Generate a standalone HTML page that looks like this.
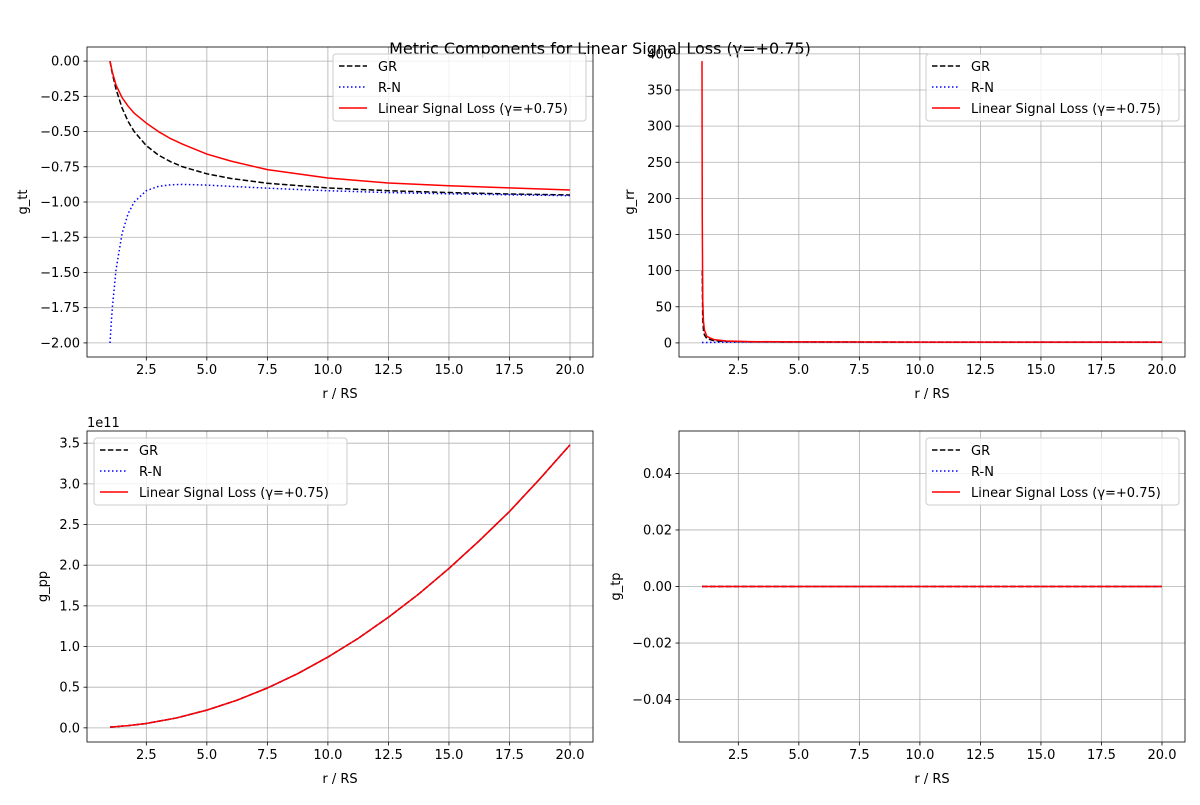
<!DOCTYPE html>
<html><head><meta charset="utf-8"><style>
body{margin:0;background:#fff;}
svg text{font-family:"DejaVu Sans","Liberation Sans",sans-serif;fill:#000;}
</style></head><body>
<svg id="fig" width="1200" height="800" viewBox="0 0 1200 800" xmlns="http://www.w3.org/2000/svg">
<rect width="1200" height="800" fill="#fff"/>
<text x="600" y="54" font-size="16" text-anchor="middle">Metric Components for Linear Signal Loss (γ=+0.75)</text>
</svg>
<script>
// ---- data ----
const rTT = [1.0,1.05,1.1,1.25,1.5,1.75,2,2.5,3,3.5,4,5,6,7.5,10,12.5,15,17.5,20];
const ttGR = [0,-0.048,-0.091,-0.2,-0.333,-0.429,-0.5,-0.6,-0.667,-0.714,-0.75,-0.8,-0.833,-0.867,-0.9,-0.92,-0.933,-0.943,-0.95];
const ttRN = [-2,-1.862,-1.744,-1.48,-1.222,-1.082,-1.0,-0.92,-0.889,-0.878,-0.875,-0.88,-0.889,-0.902,-0.92,-0.933,-0.942,-0.949,-0.955];
const ttLSL = [0,-0.04,-0.08,-0.17,-0.26,-0.32,-0.37,-0.44,-0.5,-0.55,-0.59,-0.66,-0.71,-0.77,-0.83,-0.865,-0.885,-0.9,-0.915];
const rRR = [1.0,1.01,1.03,1.06,1.1,1.2,1.5,2,3,5,10,20];
const rrGR = [100,100,34,17.7,11,6,3,2,1.5,1.25,1.11,1.05];
const rrRN = [0.5,0.5,0.5,0.52,0.54,0.6,0.75,1,1.29,1.19,1.09,1.05];
const rrLSL = [390,180,60,30,18,9,4.5,2.6,1.8,1.35,1.15,1.07];
const rPP = [1,1.75,2.5,3.75,5,6.25,7.5,8.75,10,11.25,12.5,13.75,15,16.25,17.5,18.75,20];
const ppAll = [0.0087,0.027,0.054,0.122,0.218,0.34,0.49,0.666,0.87,1.10,1.36,1.645,1.96,2.30,2.66,3.06,3.48];
const rTP = [1,20];
const tpAll = [0,0];
const xTicks = [2.5,5,7.5,10,12.5,15,17.5,20];
const xTickLabels = ["2.5","5.0","7.5","10.0","12.5","15.0","17.5","20.0"];
const ttTicks = [0,-0.25,-0.5,-0.75,-1,-1.25,-1.5,-1.75,-2];
const ttTickLabels = ["0.00","−0.25","−0.50","−0.75","−1.00","−1.25","−1.50","−1.75","−2.00"];
const rrTicks = [0,50,100,150,200,250,300,350,400];
const ppTicks = [0,0.5,1,1.5,2,2.5,3,3.5];
const ppTickLabels = ["0.0","0.5","1.0","1.5","2.0","2.5","3.0","3.5"];
const tpTicks = [-0.04,-0.02,0,0.02,0.04];
const tpTickLabels = ["−0.04","−0.02","0.00","0.02","0.04"];

const NS="http://www.w3.org/2000/svg";
const fig=document.getElementById('fig');
function mk(tag,attrs,parent){const e=document.createElementNS(NS,tag);for(const k in attrs)e.setAttribute(k,attrs[k]);(parent||fig).appendChild(e);return e;}

function panel(o){
  const g=mk('g',{});
  
  
  const X=v=>o.x0+(v-0.05)/(20.95-0.05)*o.w;
  const Y=v=>o.y0+(o.ymax-v)/(o.ymax-o.ymin)*o.h;
  xTicks.forEach((t,i)=>{
    const gl=mk('line',{x1:X(t),x2:X(t),y1:o.y0,y2:o.y0+o.h,stroke:'#b0b0b0','stroke-width':0.8},g);
    
    
    mk('line',{x1:X(t),x2:X(t),y1:o.y0+o.h,y2:o.y0+o.h+3.5,stroke:'#000','stroke-width':0.8},g);
    const tx=mk('text',{x:X(t),y:o.y0+o.h+17,'font-size':13,'text-anchor':'middle'},g);
    tx.textContent=xTickLabels[i];
    
    
  });
  o.yt.forEach((t,i)=>{
    mk('line',{x1:o.x0,x2:o.x0+o.w,y1:Y(t),y2:Y(t),stroke:'#b0b0b0','stroke-width':0.8},g);
    mk('line',{x1:o.x0-3.5,x2:o.x0,y1:Y(t),y2:Y(t),stroke:'#000','stroke-width':0.8},g);
    const tx=mk('text',{x:o.x0-7,y:Y(t)+4.5,'font-size':13,'text-anchor':'end'},g);
    tx.textContent=o.ytl[i];
    
    
  });
  const styles=[{c:'#000',d:'5.5,2.4'},{c:'#0000ff',d:'1.5,2.5'},{c:'#ff0000',d:''}];
  o.series.forEach((s,i)=>{
    const p=s.ys.map((v,j)=>(j?'L':'M')+X(s.xs[j]).toFixed(2)+','+Y(v).toFixed(2)).join('');
    const pa=mk('path',{d:p,fill:'none',stroke:styles[i].c,'stroke-width':1.5,'stroke-dasharray':styles[i].d,'stroke-linejoin':'round'},g);
    
    
  });
  mk('rect',{x:o.x0,y:o.y0,width:o.w,height:o.h,fill:'none',stroke:'#000','stroke-width':0.8},g);
  const xl=mk('text',{x:o.x0+o.w/2,y:o.y0+o.h+41,'font-size':13,'text-anchor':'middle'},g);
  xl.textContent='r / RS';
  
  
  const yx=o.ylx, yy=o.y0+o.h/2;
  const yl=mk('text',{x:yx,y:yy,'font-size':13,'text-anchor':'middle',transform:`rotate(-90 ${yx} ${yy})`},g);
  yl.textContent=o.ylabel;
  
  
  const lg=mk('g',{},g);
  
  
  mk('rect',{x:o.lx,y:o.ly,width:253,height:67,rx:3,fill:'#fff','fill-opacity':0.8,stroke:'#cccccc'},lg);
  ['GR','R-N','Linear Signal Loss (γ=+0.75)'].forEach((t,i)=>{
    const yy=o.ly+12+i*21;
    mk('line',{x1:o.lx+6,x2:o.lx+34,y1:yy,y2:yy,stroke:styles[i].c,'stroke-width':1.5,'stroke-dasharray':styles[i].d},lg);
    const tx=mk('text',{x:o.lx+45,y:yy+5,'font-size':13},lg);
    tx.textContent=t;
    
    
  });
  return g;
}
panel({name:'gtt-panel',x0:87,y0:47,w:506,h:310,ymin:-2.1,ymax:0.1,yt:ttTicks,ytl:ttTickLabels,ylabel:'g_tt',ylx:27,lx:333,ly:54,
  series:[{xs:rTT,ys:ttGR},{xs:rTT,ys:ttRN},{xs:rTT,ys:ttLSL}]});
panel({name:'grr-panel',x0:679,y0:47,w:506,h:310,ymin:-19.5,ymax:409.5,yt:rrTicks,ytl:rrTicks.map(String),ylabel:'g_rr',ylx:634,lx:926,ly:54,
  series:[{xs:rRR,ys:rrGR},{xs:rRR,ys:rrRN},{xs:rRR,ys:rrLSL}]});
panel({name:'gpp-panel',x0:87,y0:431,w:506,h:311,ymin:-0.174,ymax:3.65,yt:ppTicks,ytl:ppTickLabels,ylabel:'g_pp',ylx:47,lx:94,ly:438,
  series:[{xs:rPP,ys:ppAll},{xs:rPP,ys:ppAll},{xs:rPP,ys:ppAll}]});
panel({name:'gtp-panel',x0:679,y0:431,w:506,h:311,ymin:-0.055,ymax:0.055,yt:tpTicks,ytl:tpTickLabels,ylabel:'g_tp',ylx:620,lx:926,ly:438,
  series:[{xs:rTP,ys:tpAll},{xs:rTP,ys:tpAll},{xs:rTP,ys:tpAll}]});
const off=mk('text',{x:87,y:427,'font-size':13});
off.textContent='1e11';


</script>
</body></html>
